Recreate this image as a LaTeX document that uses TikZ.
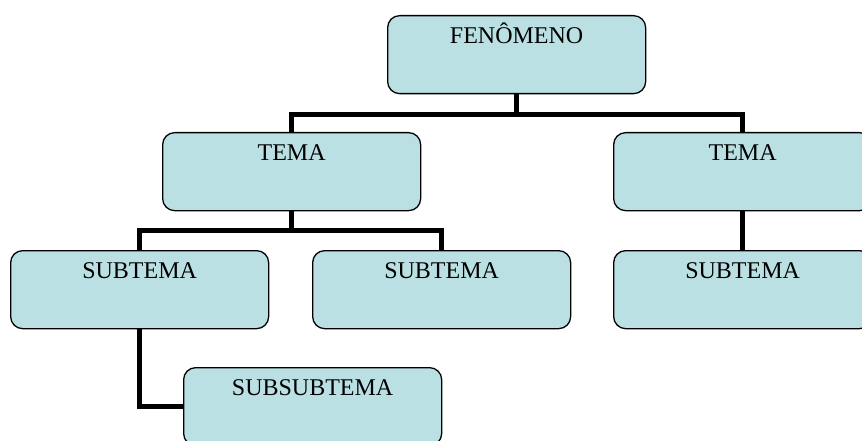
\documentclass[tikz,border=0pt]{standalone}
\usepackage{fontspec}
\setmainfont{Liberation Serif}
\definecolor{boxfill}{HTML}{BAE0E3}
\tikzset{
  topic/.style={draw=black, line width=1.3pt, fill=boxfill, rounded corners=12pt,
    minimum width=258pt, inner sep=0pt, text height=28pt, text depth=50pt,
    font=\fontsize{24}{28}\selectfont, anchor=north west},
  conn/.style={line width=5.5pt, black}
}
\begin{document}
\begin{tikzpicture}[x=1pt,y=-1pt]
\useasboundingbox (0,0) rectangle (862,441);
\node[topic] (F) at (387,15) {FENÔMENO};
\node[topic] (T1) at (162,132) {TEMA};
\node[topic] (T2) at (613,132) {TEMA};
\node[topic] (S1) at (10,250) {SUBTEMA};
\node[topic] (S2) at (312,250) {SUBTEMA};
\node[topic] (S3) at (613,250) {SUBTEMA};
\node[topic] (SS) at (183,367) {SUBSUBTEMA};
\coordinate (b1) at ([yshift=-20pt]F.south);
\coordinate (b2) at ([yshift=-19pt]T1.south);
\draw[conn] (F.south) -- (b1) -| (T1.north);
\draw[conn] (b1) -| (T2.north);
\draw[conn] (T1.south) -- (b2) -| (S1.north);
\draw[conn] (b2) -| (S2.north);
\draw[conn] (T2.south) -- (S3.north);
\draw[conn] (S1.south) |- (SS.west);
\end{tikzpicture}
\end{document}
